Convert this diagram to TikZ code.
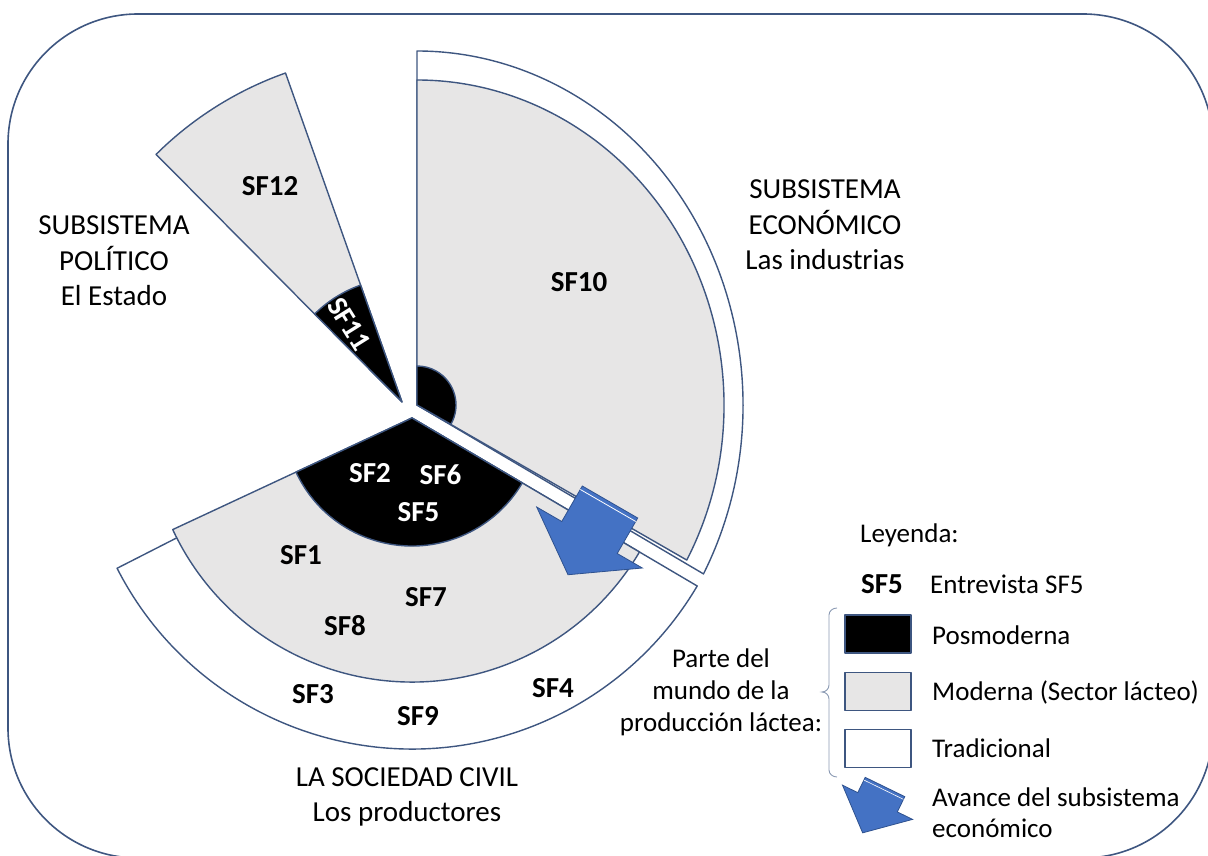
\documentclass[tikz,border=0pt]{standalone}
\usepackage{fontspec}
\setmainfont{Carlito}
\definecolor{ln}{RGB}{62,86,128}
\definecolor{lgray}{RGB}{231,230,230}
\definecolor{arrowblue}{RGB}{68,114,196}
\definecolor{arrowedge}{RGB}{47,82,143}
\begin{document}
\begin{tikzpicture}[x=1pt,y=1pt,
  edge/.style={draw=ln, line width=1.4pt, line join=round},
  trad/.style={edge, fill=white},
  modern/.style={edge, fill=lgray},
  posm/.style={edge, fill=black},
  sflabel/.style={font=\bfseries\fontsize{29}{30}\selectfont, inner sep=0pt},
  sfwhite/.style={sflabel, text=white},
  title/.style={font=\fontsize{29}{35.5}\selectfont, align=center, inner sep=0pt},
  legtext/.style={font=\fontsize{27}{31}\selectfont, anchor=west, inner sep=0pt, align=left},
  arrowshape/.style={fill=arrowblue, draw=arrowedge, line width=0.8pt, line join=miter},
  legbox/.style={edge, minimum width=66pt, minimum height=38pt, inner sep=0pt}
]
\useasboundingbox (0,0) rectangle (1208,855);
\draw[ln, line width=1.6pt, rounded corners=130pt] (8,-3) rectangle (1213,841);

% economic subsystem
\coordinate (E) at (417,450);
\path[trad] (E) -- ++(-28.5:326pt and 354pt) arc[start angle=-28.5, end angle=90, x radius=326pt, y radius=354pt] -- cycle;
\path[modern] (E) -- ++(-28.5:307pt and 325pt) arc[start angle=-28.5, end angle=90, x radius=307pt, y radius=325pt] -- cycle;
\path[posm] (E) -- ++(-29.6:39pt) arc[start angle=-29.6, end angle=90, radius=39pt] -- cycle;

% political subsystem
\coordinate (P) at (402,453);
\path[modern] (P) -- ++(109.5:349pt) arc[start angle=109.5, end angle=134.8, radius=349pt] -- cycle;
\path[posm] (P) -- ++(109.5:124pt) arc[start angle=109.5, end angle=134.8, radius=124pt] -- cycle;

% civil society
\coordinate (S) at (412,437);
\path[trad] (S) -- ++(207:331pt) arc[start angle=207, end angle=329.5, radius=331pt] -- cycle;
\path[modern] (S) -- ++(205:264pt) arc[start angle=205, end angle=329.5, radius=264pt] -- cycle;
\path[posm] (S) -- ++(205:128pt) arc[start angle=205, end angle=329.5, radius=128pt] -- cycle;

% advance arrow
\begin{scope}[shift={(610,353)}, rotate=-30]
  \path[arrowshape] (-32,0) -- (32,0) -- (32,-41) -- (61,-41) -- (0,-84) -- (-61,-41) -- (-32,-41) -- cycle;
  \draw[white, line width=0.8pt] (-32,-4) -- (32,-4);
\end{scope}

% SF labels
\node[sflabel] (sf12) at (270,669) {SF12};
\node[sfwhite, rotate=-58] (sf11) at (349,531) {SF11};
\node[sflabel] (sf10) at (579,573) {SF10};
\node[sfwhite] (sf2) at (370,381.5) {SF2};
\node[sfwhite] (sf6) at (440.5,380.5) {SF6};
\node[sfwhite] (sf5) at (418.5,342.5) {SF5};
\node[sflabel] (sf1) at (301,300) {SF1};
\node[sflabel] (sf7) at (426,258) {SF7};
\node[sflabel] (sf8) at (345,229) {SF8};
\node[sflabel] (sf3) at (313,161) {SF3};
\node[sflabel] (sf9) at (418,139) {SF9};
\node[sflabel] (sf4) at (553,167) {SF4};

% titles
\node[title] (econ) at (825,630) {SUBSISTEMA\\ECONÓMICO\\Las industrias};
\node[title] (pol) at (114,594) {SUBSISTEMA\\POLÍTICO\\El Estado};
\node[title] (soc) at (407,58) {LA SOCIEDAD CIVIL\\Los productores};
\node[font=\fontsize{27}{32}\selectfont, align=center, inner sep=0pt] (parte) at (721,163) {Parte del\\mundo de la\\producción láctea:};

% legend
\node[legtext] (ley) at (860,320) {Leyenda:};
\node[sflabel] (lsf5) at (882,271) {SF5};
\node[legtext] (lent) at (930,271) {Entrevista SF5};
\node[legbox, fill=black] (kpos) at (878,221) {};
\node[legbox, fill=lgray] (kmod) at (878,163.5) {};
\node[legbox, fill=white] (ktrad) at (878,106.5) {};
\node[legtext] (lpos) at (932,220) {Posmoderna};
\node[legtext] (lmod) at (932,163) {Moderna (Sector lácteo)};
\node[legtext] (ltrad) at (932,107) {Tradicional};
\node[legtext] (lav) at (932,42.5) {Avance del subsistema\\económico};

% brace
\coordinate (bt) at (837,247);
\coordinate (bm) at (822,163);
\coordinate (bb) at (837,78);
\draw[ln!60, line width=0.9pt] (bt) to[out=180,in=90] (829,240) -- (829,170) to[out=-90,in=0] (bm)
  to[out=0,in=90] (829,156) -- (829,85) to[out=-90,in=180] (bb);

% legend arrow
\begin{scope}[shift={(885,68)}, rotate=-26]
  \path[arrowshape] (-22,0) -- (22,0) -- (22,-17) -- (39,-17) -- (0,-51) -- (-39,-17) -- (-22,-17) -- cycle;
  \draw[white, line width=0.6pt] (-22,-3) -- (22,-3);
\end{scope}
\end{tikzpicture}
\end{document}
